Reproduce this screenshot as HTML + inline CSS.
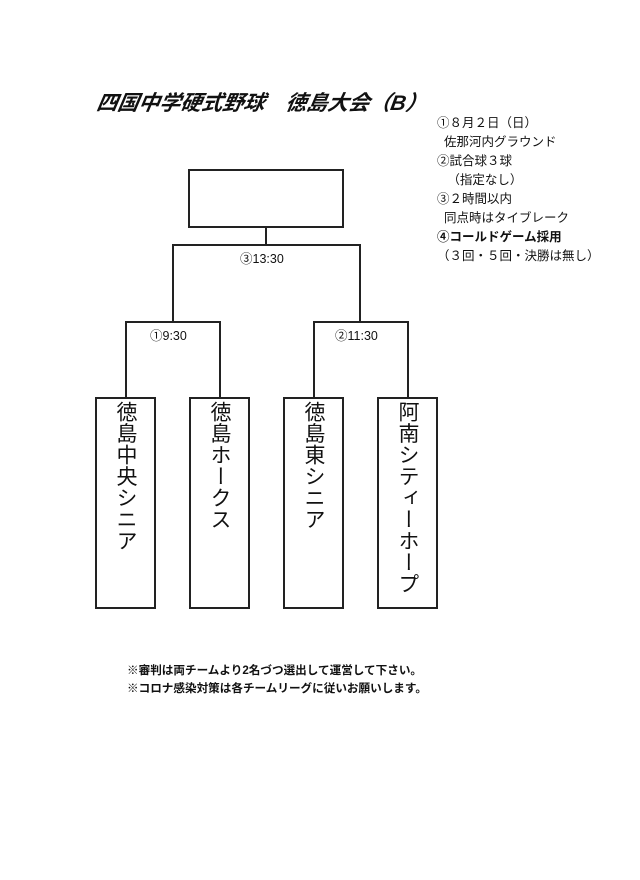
<!DOCTYPE html>
<html><head><meta charset="utf-8"><style>
body{margin:0;width:640px;height:880px;background:#fff;position:relative;overflow:hidden;font-family:"Liberation Sans","Noto Sans CJK JP",sans-serif;color:#111}
.a{position:absolute;white-space:nowrap}
.b{position:absolute;border:2px solid #222;box-sizing:border-box}
.l{position:absolute;background:#222}
.v{writing-mode:vertical-rl;font-size:21px;letter-spacing:0.5px;line-height:1;position:absolute;top:401px}
.n{font-size:12.5px;line-height:19px}
</style></head><body>
<div class="a" style="left:97px;top:87px;font-size:21px;font-weight:bold;font-style:italic;transform:skewX(-10deg)">四国中学硬式野球　徳島大会（B）</div>
<div class="a n" style="left:437px;top:114px">①８月２日（日）<br>&nbsp;&nbsp;佐那河内グラウンド<br>②試合球３球<br>&nbsp;&nbsp;&nbsp;（指定なし）<br>③２時間以内<br>&nbsp;&nbsp;同点時はタイブレーク<br><b>④コールドゲーム採用</b><br>（３回・５回・決勝は無し）</div>
<div class="b" style="left:188px;top:169px;width:156px;height:59px"></div>
<div class="l" style="left:265px;top:227px;width:2px;height:19px"></div>
<div class="l" style="left:172px;top:244px;width:189px;height:2px"></div>
<div class="l" style="left:172px;top:244px;width:2px;height:79px"></div>
<div class="l" style="left:359px;top:244px;width:2px;height:79px"></div>
<div class="a" style="left:240px;top:248px;font-size:12.5px">③13:30</div>
<div class="l" style="left:125px;top:321px;width:96px;height:2px"></div>
<div class="l" style="left:125px;top:321px;width:2px;height:77px"></div>
<div class="l" style="left:219px;top:321px;width:2px;height:77px"></div>
<div class="a" style="left:150px;top:325px;font-size:12.5px">①9:30</div>
<div class="l" style="left:313px;top:321px;width:96px;height:2px"></div>
<div class="l" style="left:313px;top:321px;width:2px;height:77px"></div>
<div class="l" style="left:407px;top:321px;width:2px;height:77px"></div>
<div class="a" style="left:335px;top:325px;font-size:12.5px">②11:30</div>
<div class="b" style="left:95px;top:397px;width:61px;height:212px"></div>
<div class="b" style="left:189px;top:397px;width:61px;height:212px"></div>
<div class="b" style="left:283px;top:397px;width:61px;height:212px"></div>
<div class="b" style="left:377px;top:397px;width:61px;height:212px"></div>
<div class="v" style="left:115px">徳島中央シニア</div>
<div class="v" style="left:209px">徳島ホークス</div>
<div class="v" style="left:303px">徳島東シニア</div>
<div class="v" style="left:397px">阿南シティーホープ</div>
<div class="a" style="left:127px;top:662px;font-size:11.6px;font-weight:bold;line-height:18px">※審判は両チームより2名づつ選出して運営して下さい。<br>※コロナ感染対策は各チームリーグに従いお願いします。</div>
</body></html>
